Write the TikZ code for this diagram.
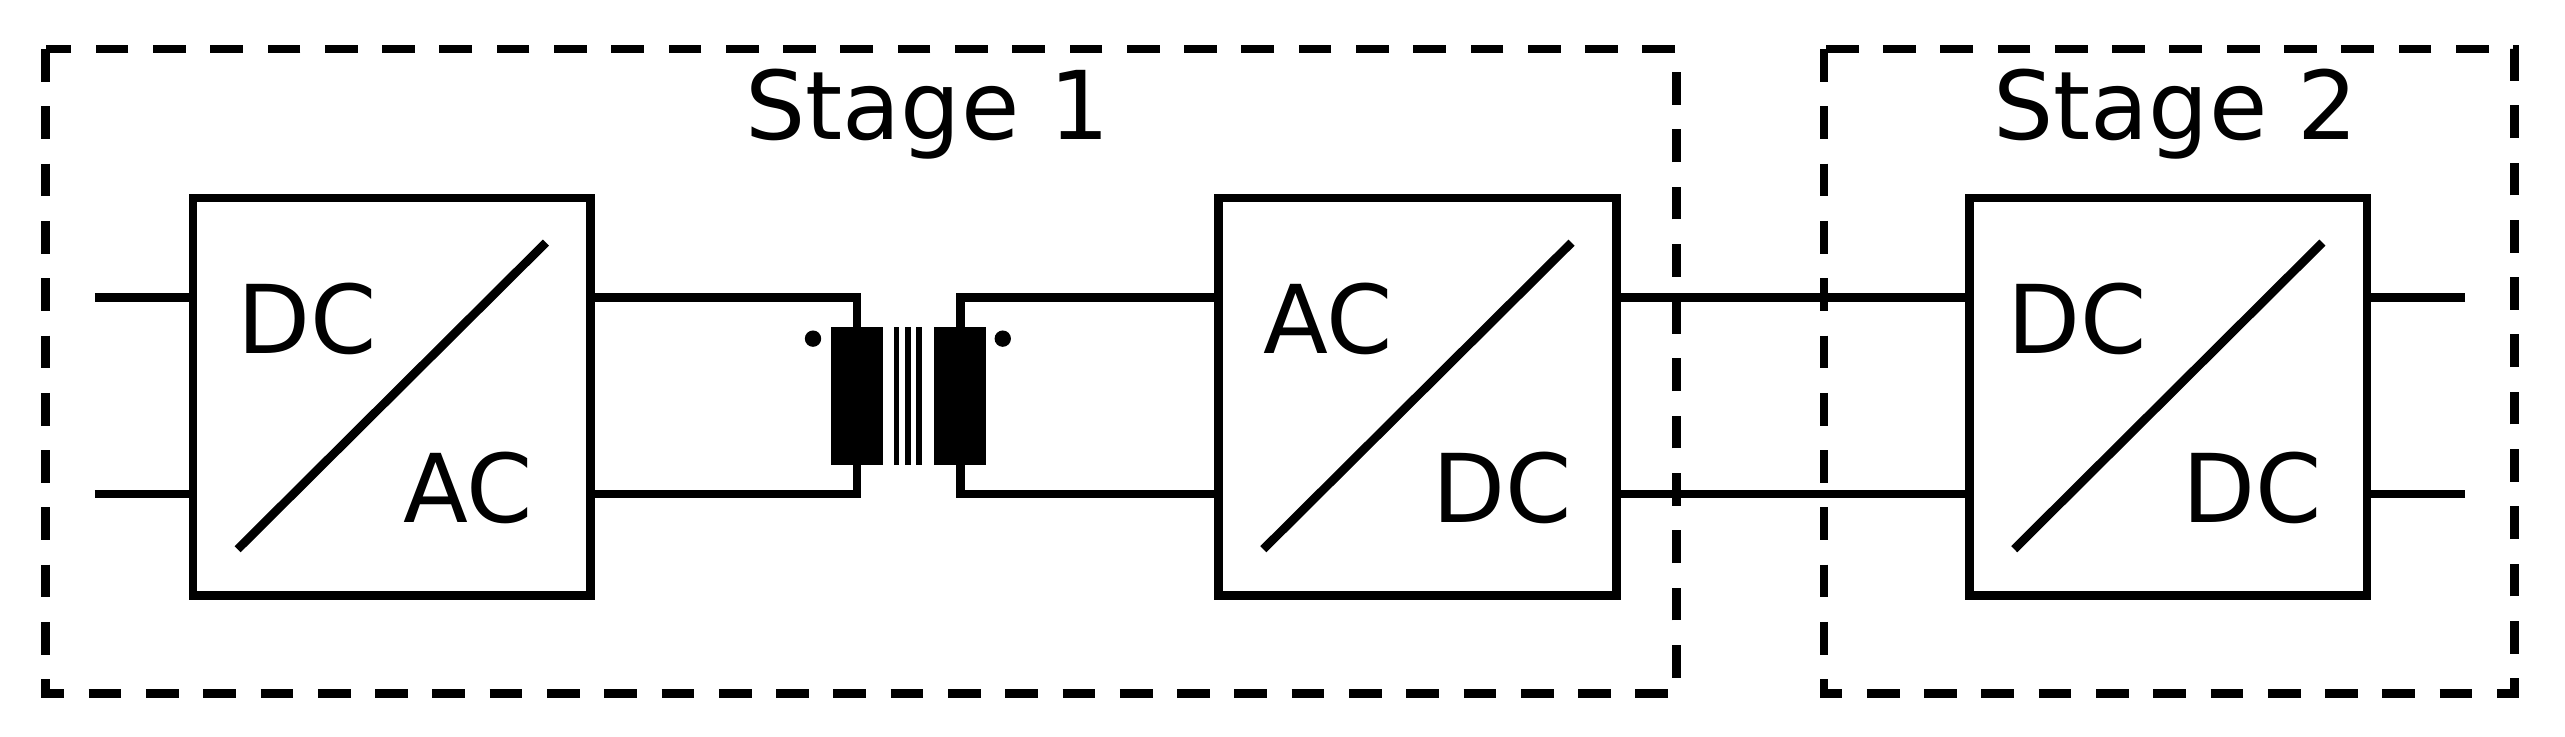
\documentclass[tikz,border=0pt]{standalone}
\usetikzlibrary{calc}
\usepackage{fontspec}
\setmainfont{DejaVu Sans}
\begin{document}
\begin{tikzpicture}[x=0.01cm,y=-0.01cm,
  ln/.style={line width=1.5pt},
  conv/.style={draw,line width=1.5pt,minimum width=2.43cm,minimum height=2.43cm,inner sep=0},
  stagebox/.style={draw,line width=1.5pt,dash pattern=on 0.2cm off 0.15cm},
  lbl/.style={font=\fontsize{16.5}{19}\selectfont,inner sep=0},
  coil/.style={fill=black,minimum width=0.32cm,minimum height=0.84cm,inner sep=0}]
\useasboundingbox (0,0) rectangle (1568,450);
\draw[stagebox] (28,30) rectangle (1025,424);
\draw[stagebox] (1115,30) rectangle (1537,424);
\node[lbl] (s1) at (567,70) {Stage 1};
\node[lbl] (s2) at (1330,70) {Stage 2};
% converters
\node[conv] (b1) at (239.5,242.5) {};
\node[conv] (b2) at (866.5,242.5) {};
\node[conv] (b3) at (1325.5,242.5) {};
\foreach \b in {b1,b2,b3}{
  \draw[ln] ($(\b.south west)+(30,-31)$) -- ($(\b.north east)+(-30,30)$);
}
\node[lbl] (t1a) at (188,195) {DC};
\node[lbl] (t1b) at (286,298) {AC};
\node[lbl] (t2a) at (812,195) {AC};
\node[lbl] (t2b) at (918,298) {DC};
\node[lbl] (t3a) at (1270,195) {DC};
\node[lbl] (t3b) at (1377,298) {DC};
% coordinates
\coordinate (in1) at (58,182); \coordinate (in2) at (58,302);
\coordinate (out1) at (1507,182); \coordinate (out2) at (1507,302);
\coordinate (p1) at (524,182); \coordinate (p2) at (524,302);
\coordinate (q1) at (587,182); \coordinate (q2) at (587,302);
\draw[ln] (in1) -- (in1 -| b1.west);
\draw[ln] (in2) -- (in2 -| b1.west);
\draw[ln] (p1 -| b1.east) -- (p1) -- (p2) -- (p2 -| b1.east);
\draw[ln] (q1 -| b2.west) -- (q1) -- (q2) -- (q2 -| b2.west);
\draw[ln] (p1 -| b2.east) -- (p1 -| b3.west);
\draw[ln] (p2 -| b2.east) -- (p2 -| b3.west);
\draw[ln] (out1) -- (out1 -| b3.east);
\draw[ln] (out2) -- (out2 -| b3.east);
% transformer
\node[coil] (c1) at (524,242) {};
\node[coil] (c2) at (587,242) {};
\foreach \x in {548,555,562} \draw[line width=1pt] (\x,200) -- (\x,284);
\fill (497,207) circle (5);
\fill (613,207) circle (5);
\end{tikzpicture}
\end{document}
